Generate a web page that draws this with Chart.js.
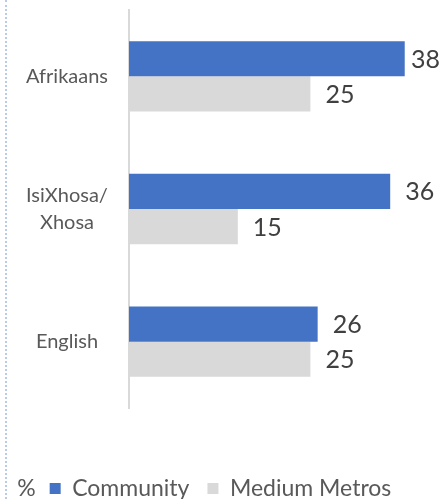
<!DOCTYPE html>
<html>
<head>
<meta charset="utf-8">
<script src="https://cdn.jsdelivr.net/npm/chart.js@4/dist/chart.umd.min.js"></script>
<style>
  html, body { margin:0; padding:0; background:#fff; }
  #wrap { position:relative; width:441px; height:499px; overflow:hidden; }
  #wrap::before { content:""; position:absolute; left:5px; top:0; bottom:0; border-left:2px dotted #b8cbea; }
  canvas { display:block; }
</style>
</head>
<body>
<div id="wrap"><canvas id="c" width="441" height="510"></canvas></div>
<script>
// languages spoken, % of respondents
const LANGUAGES = ["Afrikaans", ["IsiXhosa/", "Xhosa"], "English"];
const COMMUNITY = [38, 36, 26];
const MEDIUM_METROS = [25, 15, 25];
const UNIT = "%";

const FONT = "Lato, 'Open Sans', sans-serif";
const TEXT = "#595959";

// value printed just past the end of each bar
const barValues = {
  id: "barValues",
  afterDatasetsDraw(chart){
    const { ctx } = chart;
    ctx.save();
    ctx.font = `25px ${FONT}`;
    ctx.fillStyle = "#404040";
    ctx.textBaseline = "middle";
    ctx.textAlign = "left";
    chart.data.datasets.forEach((ds, i) => {
      chart.getDatasetMeta(i).data.forEach((bar, j) => {
        const txt = String(ds.data[j]);
        const w = ctx.measureText(txt).width;
        const x = Math.min(bar.x + 15, chart.width - 1 - w);
        ctx.fillText(txt, x, bar.y + 1);
      });
    });
    ctx.restore();
  }
};

// unit sign in front of the legend
const unitSign = {
  id: "unitSign",
  afterDraw(chart){
    const boxes = chart.legend && chart.legend.legendHitBoxes;
    if (!boxes || !boxes.length) return;
    const b = boxes[0];
    const { ctx } = chart;
    ctx.save();
    ctx.font = `23px ${FONT}`;
    ctx.fillStyle = TEXT;
    ctx.textAlign = "right";
    ctx.textBaseline = "middle";
    ctx.fillText(UNIT, b.left - 14, b.top + b.height / 2);
    ctx.restore();
  }
};

new Chart(document.getElementById("c"), {
  type: "bar",
  data: {
    labels: LANGUAGES,
    datasets: [
      { label: "Community", data: COMMUNITY, backgroundColor: "#4472c4" },
      { label: "Medium Metros", data: MEDIUM_METROS, backgroundColor: "#d9d9d9" },
    ],
  },
  options: {
    indexAxis: "y",
    responsive: false,
    animation: false,
    devicePixelRatio: 1,
    layout: { padding: { top: 10, left: 0, right: 0, bottom: 0 } },
    datasets: { bar: { categoryPercentage: 0.53, barPercentage: 1.0 } },
    scales: {
      x: {
        min: 0, max: 43,
        grid: { display: false, drawTicks: false },
        border: { display: false },
        ticks: { display: false },
        afterFit: s => { s.height = 51; },
      },
      y: {
        grid: { display: false, drawTicks: false },
        border: { display: true, color: "#d9d9d9", width: 2 },
        ticks: { color: TEXT, font: { family: FONT, size: 20, lineHeight: 1.35 }, crossAlign: "center", padding: 21 },
        afterFit: s => { s.width = 129; s.paddingTop = 0; s.paddingBottom = 0; },
      },
    },
    plugins: {
      legend: {
        position: "bottom",
        labels: { boxWidth: 11, boxHeight: 11, padding: 18, color: TEXT, font: { family: FONT, size: 23 } },
      },
      tooltip: { enabled: false },
    },
  },
  plugins: [barValues, unitSign],
});
</script>
</body>
</html>
